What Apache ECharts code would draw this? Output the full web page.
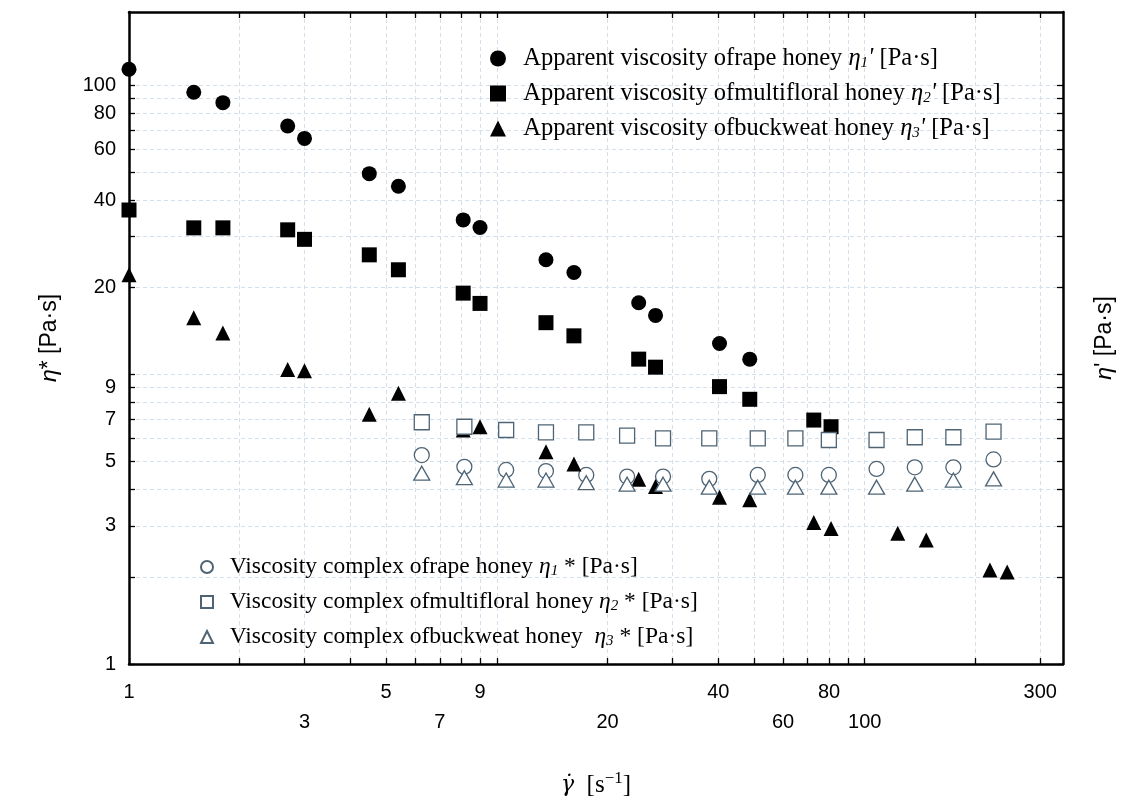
<!DOCTYPE html>
<html><head><meta charset="utf-8">
<script src="https://cdn.jsdelivr.net/npm/echarts@6/dist/echarts.min.js"></script>
<style>html,body{margin:0;padding:0;background:#fff}#chart{width:1135px;height:801px}</style>
</head><body><div id="chart"></div>
<script>
// shear rates of the steady-flow measurements [1/s]
const shearRate = [1, 1.5, 1.8, 2.7, 3.0, 4.5, 5.4, 8.1, 9.0, 13.6, 16.2, 24.3, 27.0, 40.3, 48.7, 72.7, 81.0, 123, 147, 219, 244];
// apparent viscosities [Pa·s]
const rapeApparent = [113.3, 94.4, 86.9, 72.2, 65.4, 49.4, 44.7, 34.2, 32.2, 24.9, 22.5, 17.7, 16.0, 12.8, 11.3];
const multifloralApparent = [37.0, 32.1, 32.1, 31.6, 29.3, 25.9, 23.0, 19.1, 17.6, 15.1, 13.6, 11.3, 10.6, 9.08, 8.21, 6.96, 6.60];
const buckwheatApparent = [22.1, 15.7, 13.9, 10.4, 10.3, 7.29, 8.61, 6.43, 6.60, 5.41, 4.91, 4.35, 4.10, 3.77, 3.69, 3.08, 2.94, 2.83, 2.68, 2.11, 2.08];
// oscillatory measurements
const oscRate = [6.25, 8.16, 10.6, 13.6, 17.5, 22.6, 28.3, 37.8, 51.2, 64.8, 79.9, 107.7, 136.8, 174.2, 224];
const rapeComplex = [5.27, 4.80, 4.68, 4.64, 4.50, 4.44, 4.44, 4.36, 4.50, 4.50, 4.50, 4.72, 4.78, 4.78, 5.09];
const multifloralComplex = [6.84, 6.60, 6.43, 6.31, 6.31, 6.15, 6.02, 6.02, 6.02, 6.02, 5.94, 5.94, 6.07, 6.07, 6.35];
const buckwheatComplex = [4.56, 4.40, 4.32, 4.32, 4.23, 4.18, 4.18, 4.08, 4.08, 4.08, 4.08, 4.08, 4.18, 4.32, 4.36];
// axes
const xRange = [1, 346];
const yRange = [1, 178.7];
const xLabelsRow1 = [1, 5, 9, 40, 80, 300];
const xLabelsRow2 = [3, 7, 20, 60, 100];
const yLabels = [1, 3, 5, 7, 9, 20, 40, 60, 80, 100];
const xTickMarks = [1,2,3,4,5,6,7,8,9,10,20,30,40,50,60,70,80,90,100,200,300];
const yTickMarks = [1,2,3,4,5,6,7,8,9,10,20,30,40,50,60,70,80,90,100];
// names
const nameRapeA = 'Apparent viscosity of rape honey';
const nameMultiA = 'Apparent viscosity of multifloral honey';
const nameBuckA = 'Apparent viscosity of buckweat honey';
const nameRapeC = 'Viscosity complex of rape honey';
const nameMultiC = 'Viscosity complex of multifloral honey';
const nameBuckC = 'Viscosity complex of buckweat honey';
const legendText = {};
legendText[nameRapeA] = "{t|  Apparent viscosity ofrape honey }{e|η}{s|1}{e|'}{t| [Pa·s]}";
legendText[nameMultiA] = "{t|  Apparent viscosity ofmultifloral honey }{e|η}{s|2}{e|'}{t| [Pa·s]}";
legendText[nameBuckA] = "{t|  Apparent viscosity ofbuckweat honey }{e|η}{s|3}{e|'}{t| [Pa·s]}";
legendText[nameRapeC] = "{t|  Viscosity complex ofrape honey }{e|η}{s|1}{t| * [Pa·s]}";
legendText[nameMultiC] = "{t|  Viscosity complex ofmultifloral honey }{e|η}{s|2}{t| * [Pa·s]}";
legendText[nameBuckC] = "{t|  Viscosity complex ofbuckweat honey  }{e|η}{s|3}{t| * [Pa·s]}";

const L = v => Math.log10(v);
const pairs = (xs, ys) => ys.map((y, i) => [xs[i], y]);
const serif = 'Liberation Serif';
const sans = 'Liberation Sans';
const openColor = '#4e6475';

function richFor(size) {
  return {
    t: {fontFamily: serif, fontSize: size, color: '#000', lineHeight: 24},
    e: {fontFamily: serif, fontStyle: 'italic', fontSize: size, color: '#000', lineHeight: 24},
    s: {fontFamily: serif, fontStyle: 'italic', fontSize: 15, color: '#000', lineHeight: 24, verticalAlign: 'bottom'}
  };
}

const chart = echarts.init(document.getElementById('chart'));
const gridLine = {show: true, lineStyle: {color: '#d3e0ec', width: 1, type: [4, 3]}};
const axisLineStyle = {show: true, onZero: false, lineStyle: {color: '#000', width: 2.5}};
const tickStyle = {color: '#000', width: 1.3};

chart.setOption({
  animation: false,
  backgroundColor: '#fff',
  grid: {left: 129, top: 12, right: 72, bottom: 137, containLabel: false, outerBoundsMode: 'none'},
  xAxis: [
    {type: 'log', min: xRange[0], max: xRange[1], show: false, position: 'bottom'},
    {type: 'value', position: 'bottom', min: 0, max: L(xRange[1]),
      axisLine: axisLineStyle,
      axisTick: {show: true, inside: true, length: 6, customValues: xTickMarks.map(L), lineStyle: tickStyle},
      axisLabel: {customValues: xLabelsRow1.concat(xLabelsRow2).map(L), margin: 13, fontSize: 20, lineHeight: 30,
        fontFamily: sans, color: '#000',
        formatter: v => { const n = Math.round(Math.pow(10, v)); return xLabelsRow2.indexOf(n) >= 0 ? '\n' + n : String(n); }},
      splitLine: gridLine,
      name: '{g|γ̇}{t|  [s}{p|−1}{t|]}', nameLocation: 'middle', nameGap: 106,
      nameTextStyle: {rich: {
        g: {fontFamily: 'DejaVu Serif', fontStyle: 'italic', fontSize: 22, color: '#000', lineHeight: 30},
        t: {fontFamily: serif, fontSize: 25, color: '#000', lineHeight: 30},
        p: {fontFamily: serif, fontSize: 17, color: '#000', lineHeight: 30, verticalAlign: 'top'}
      }}
    },
    {type: 'value', position: 'top', min: 0, max: L(xRange[1]),
      axisLine: axisLineStyle,
      axisTick: {show: true, inside: true, length: 6, customValues: xTickMarks.map(L), lineStyle: tickStyle},
      axisLabel: {show: false}, splitLine: {show: false}
    }
  ],
  yAxis: [
    {type: 'log', min: yRange[0], max: yRange[1], show: false, position: 'left'},
    {type: 'value', position: 'left', min: 0, max: L(yRange[1]),
      axisLine: axisLineStyle,
      axisTick: {show: true, inside: true, length: 6, customValues: yTickMarks.map(L), lineStyle: tickStyle},
      axisLabel: {customValues: yLabels.map(L), margin: 13, fontSize: 20, fontFamily: sans, color: '#000',
        formatter: v => String(Math.round(Math.pow(10, v)))},
      splitLine: gridLine,
      name: '{e|η}{t|* [Pa·s]}', nameLocation: 'middle', nameGap: 68, nameRotate: 90,
      nameTextStyle: {rich: {
        e: {fontFamily: sans, fontStyle: 'italic', fontSize: 23, color: '#000'},
        t: {fontFamily: sans, fontSize: 23, color: '#000'}
      }}
    },
    {type: 'value', position: 'right', min: 0, max: L(yRange[1]),
      axisLine: axisLineStyle,
      axisTick: {show: true, inside: true, length: 6, customValues: yTickMarks.map(L), lineStyle: tickStyle},
      axisLabel: {show: false}, splitLine: {show: false},
      name: "{e|η}{t|' [Pa·s]}", nameLocation: 'middle', nameGap: 30, nameRotate: 90,
      nameTextStyle: {rich: {
        e: {fontFamily: sans, fontStyle: 'italic', fontSize: 23, color: '#000'},
        t: {fontFamily: sans, fontSize: 23, color: '#000'}
      }}
    }
  ],
  legend: [
    {data: [nameRapeA, nameMultiA, nameBuckA], orient: 'vertical', left: 485, top: 41,
      itemWidth: 16, itemHeight: 16, itemGap: 10, selectedMode: false,
      formatter: n => legendText[n], textStyle: {rich: richFor(24.5)}},
    {data: [nameRapeC, nameMultiC, nameBuckC], orient: 'vertical', left: 195, top: 550,
      itemWidth: 12, itemHeight: 12, itemGap: 11, selectedMode: false,
      formatter: n => legendText[n], textStyle: {rich: richFor(23.5)}}
  ],
  series: [
    {name: nameRapeC, type: 'scatter', xAxisIndex: 0, yAxisIndex: 0, symbol: 'circle', symbolSize: 15,
      itemStyle: {color: '#fff', borderColor: openColor, borderWidth: 1.3, opacity: 1}, data: pairs(oscRate, rapeComplex)},
    {name: nameRapeA, type: 'scatter', xAxisIndex: 0, yAxisIndex: 0, symbol: 'circle', symbolSize: 15,
      itemStyle: {color: '#000', opacity: 1}, data: pairs(shearRate, rapeApparent)},
    {name: nameMultiA, type: 'scatter', xAxisIndex: 0, yAxisIndex: 0, symbol: 'rect', symbolSize: 15,
      itemStyle: {color: '#000', opacity: 1}, data: pairs(shearRate, multifloralApparent)},
    {name: nameBuckA, type: 'scatter', xAxisIndex: 0, yAxisIndex: 0, symbol: 'triangle', symbolSize: 15,
      itemStyle: {color: '#000', opacity: 1}, data: pairs(shearRate, buckwheatApparent)},
    {name: nameBuckC, type: 'scatter', xAxisIndex: 0, yAxisIndex: 0, symbol: 'triangle', symbolSize: [16, 14],
      itemStyle: {color: '#fff', borderColor: openColor, borderWidth: 1.3, opacity: 1}, data: pairs(oscRate, buckwheatComplex)},
    {name: nameMultiC, type: 'scatter', xAxisIndex: 0, yAxisIndex: 0, symbol: 'rect', symbolSize: 15,
      itemStyle: {color: '#fff', borderColor: openColor, borderWidth: 1.3, opacity: 1}, data: pairs(oscRate, multifloralComplex)}
  ]
});
</script></body></html>
